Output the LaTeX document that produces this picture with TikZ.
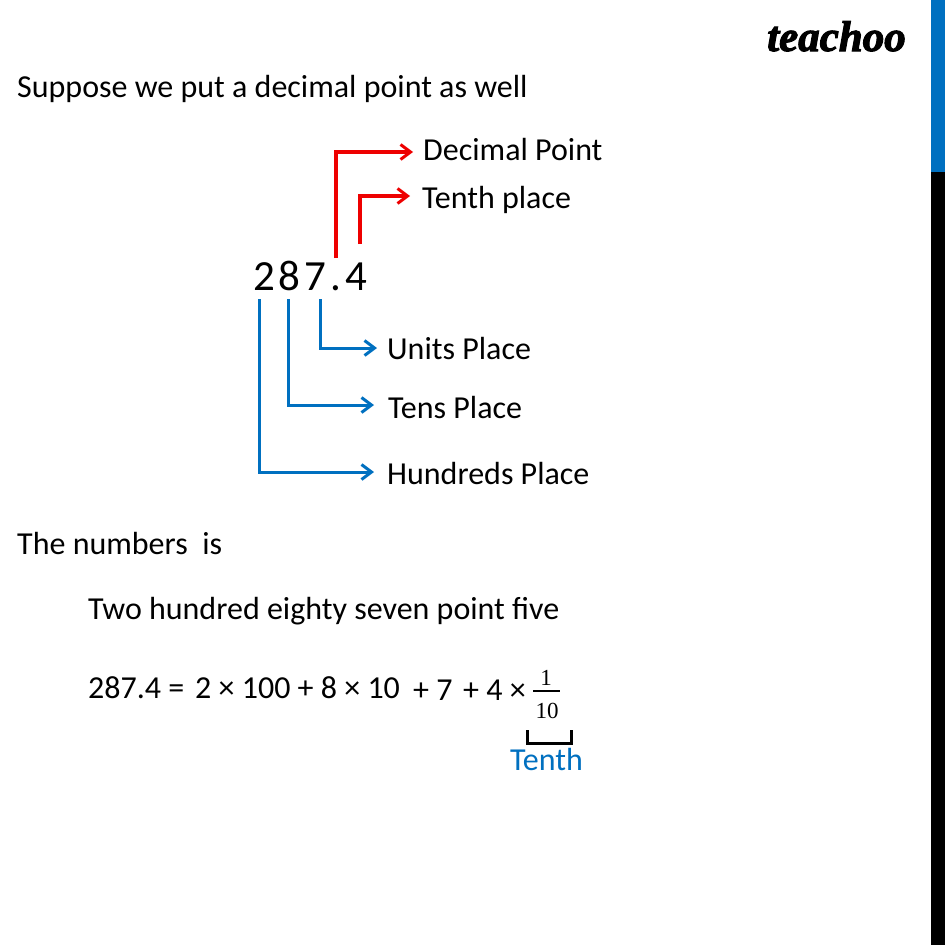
\documentclass[tikz,border=0pt]{standalone}
\usepackage{fontspec}
\usepackage{xcolor}
\setmainfont{Carlito}
\newfontfamily\numfam[LetterSpace=9.2]{Carlito}
\newfontfamily\logofam[BoldItalicFeatures={FakeBold=2.5}]{Liberation Serif}
\newfontfamily\fracfam{Liberation Serif}
\usetikzlibrary{arrows.meta}
\definecolor{tblue}{HTML}{0070C0}
\definecolor{tred}{HTML}{EE0000}
\tikzset{
  txt/.style={anchor=base west,inner sep=0pt,font=\fontsize{32}{38}\selectfont,text=black},
  redarrow/.style={draw=tred,line width=3.2pt,-{Straight Barb[length=10pt,width=15pt,line width=3pt]}},
  bluearrow/.style={draw=tblue,line width=3pt,-{Straight Barb[length=10pt,width=15pt,line width=3pt]}},
  fracnum/.style={anchor=base,inner sep=0pt,font=\fracfam\fontsize{23}{26}\selectfont},
}
\begin{document}
\begin{tikzpicture}[x=1pt,y=-1pt]
\useasboundingbox (0,0) rectangle (945,945);
\fill[white] (0,0) rectangle (945,945);
\fill[tblue] (931,0) rectangle (945,172);
\fill[black] (931,172) rectangle (945,945);
\node[anchor=base west,inner sep=0pt,font=\logofam\bfseries\itshape\fontsize{43}{46}\selectfont,text=black] (logo) at (767,51) {teachoo};
\node[txt] (intro) at (17,97) {Suppose we put a decimal point as well};
\node[anchor=base west,inner sep=0pt,font=\numfam\fontsize{43}{50}\selectfont] (num) at (253,290) {287.4};
\node[txt] (dec) at (423,160) {Decimal Point};
\node[txt] (tenth) at (422,208) {Tenth place};
\node[txt] (units) at (387,359) {Units Place};
\node[txt] (tens) at (388,418) {Tens Place};
\node[txt] (hund) at (387,484) {Hundreds Place};
\draw[redarrow] ([shift={(83pt,32pt)}]num.base west) |- ([shift={(-10pt,8pt)}]dec.base west);
\draw[redarrow] ([shift={(107pt,46pt)}]num.base west) |- ([shift={(-12pt,12pt)}]tenth.base west);
\draw[bluearrow] ([shift={(67pt,-9pt)}]num.base west) |- ([shift={(-10pt,11pt)}]units.base west);
\draw[bluearrow] ([shift={(35pt,-9pt)}]num.base west) |- ([shift={(-14pt,13pt)}]tens.base west);
\draw[bluearrow] ([shift={(6pt,-9pt)}]num.base west) |- ([shift={(-13pt,12pt)}]hund.base west);
\node[txt] (isline) at (17,554) {The numbers\ \ is};
\node[txt] (words) at (88,619) {Two hundred eighty seven point five};
\node[txt] (lhs) at (88,698) {287.4 =};
\node[txt] (t1) at (195,698) {2 × 100 + 8 × 10};
\node[txt] (t2) at (413,700) {+ 7};
\node[txt] (t3) at (463,700) {+ 4 ×};
\node[fracnum] (fn) at (546,685) {1};
\node[fracnum] (fd) at (547,718) {10};
\draw[black,line width=1.6pt] (533,691) -- (560,691);
\draw[black,line width=3pt] (527,730) -- (527,743) -- (571,743) -- (571,730);
\node[txt,text=tblue] (tlabel) at (510,770) {Tenth};
\end{tikzpicture}
\end{document}
